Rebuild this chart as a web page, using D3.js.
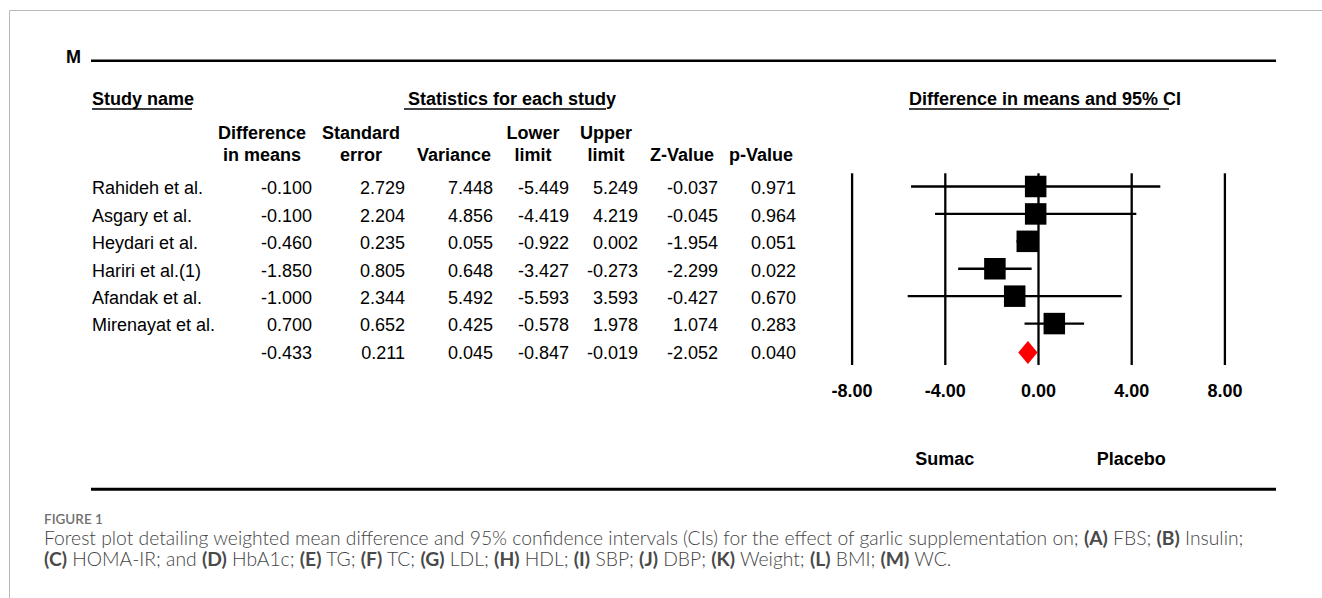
<!DOCTYPE html>
<html>
<head>
<meta charset="utf-8">
<script src="https://cdn.jsdelivr.net/npm/d3@7"></script>
<style>
  html, body { margin: 0; padding: 0; background: #fff; }
  svg { display: block; }
  .tbl { font-family: "Liberation Sans", Arial, sans-serif; font-size: 18px; fill: #000; }
  .bold { font-weight: bold; }
</style>
</head>
<body>
<svg id="chart" width="1322" height="598"></svg>
<script>
// Forest plot (M): waist circumference, sumac vs placebo
const studies     = ["Rahideh et al.", "Asgary et al.", "Heydari et al.", "Hariri et al.(1)", "Afandak et al.", "Mirenayat et al."];
const diffMeans   = [-0.100, -0.100, -0.460, -1.850, -1.000, 0.700];
const stdErrors   = [2.729, 2.204, 0.235, 0.805, 2.344, 0.652];
const variances   = [7.448, 4.856, 0.055, 0.648, 5.492, 0.425];
const lowerLimits = [-5.449, -4.419, -0.922, -3.427, -5.593, -0.578];
const upperLimits = [5.249, 4.219, 0.002, -0.273, 3.593, 1.978];
const zValues     = [-0.037, -0.045, -1.954, -2.299, -0.427, 1.074];
const pValues     = [0.971, 0.964, 0.051, 0.022, 0.670, 0.283];
// pooled estimate: diff, SE, variance, lower, upper, Z, p
const pooled      = [-0.433, 0.211, 0.045, -0.847, -0.019, -2.052, 0.040];
const xTicks      = [-8, -4, 0, 4, 8];
const colHeaders  = [["Difference", "in means"], ["Standard", "error"], ["", "Variance"],
                     ["Lower", "limit"], ["Upper", "limit"], ["", "Z-Value"], ["", "p-Value"]];
const favourLabels = [["Sumac", -4], ["Placebo", 4]];

const svg = d3.select("#chart");
svg.append("rect").attr("width", 1322).attr("height", 598).attr("fill", "#fff");

// outer figure frame (open to the right and bottom)
svg.append("path").attr("d", "M9.5,598V10.5H1322")
  .attr("fill", "none").attr("stroke", "#b8b8b8").attr("stroke-width", 1);

const g = svg.append("g").attr("class", "tbl");

// panel letter and rules
g.append("text").attr("class", "bold").attr("x", 66).attr("y", 63.3).text("M");
g.append("line").attr("x1", 91).attr("x2", 1276).attr("y1", 60.7).attr("y2", 60.7)
  .attr("stroke", "#000").attr("stroke-width", 2.6);
g.append("line").attr("x1", 91).attr("x2", 1276).attr("y1", 489.3).attr("y2", 489.3)
  .attr("stroke", "#000").attr("stroke-width", 3);

// section headings with underlines
const headings = [
  { t: "Study name", x: 92, u: [92, 192] },
  { t: "Statistics for each study", x: 408, u: [404, 606] },
  { t: "Difference in means and 95% CI", x: 909, u: [909, 1169] }
];
headings.forEach(h => {
  g.append("text").attr("class", "bold").attr("x", h.x).attr("y", 105).text(h.t);
  g.append("line").attr("x1", h.u[0]).attr("x2", h.u[1]).attr("y1", 109).attr("y2", 109)
    .attr("stroke", "#000").attr("stroke-width", 1.5);
});

// table columns: right edge of numbers and centre of the header
const colRight  = [312, 405, 493, 569, 638, 718, 796];
const colCenter = [262, 361, 454, 533, 606, 682, 761];
colHeaders.forEach((lines, i) => {
  lines.forEach((ln, k) => {
    if (!ln) return;
    g.append("text").attr("class", "bold").attr("text-anchor", "middle")
      .attr("x", colCenter[i]).attr("y", k === 0 ? 139 : 161).text(ln);
  });
});

// row positions
const rowIdx = d3.range(studies.length + 1);
const y = d3.scalePoint().domain(rowIdx).range([188, 352.5]);

const fmt = v => v.toFixed(3);
const rows = studies.map((s, i) => ({
  name: s,
  vals: [diffMeans[i], stdErrors[i], variances[i], lowerLimits[i], upperLimits[i], zValues[i], pValues[i]]
}));
rows.push({ name: "", vals: pooled });

rows.forEach((r, i) => {
  const yy = y(i) + 6.4;
  g.append("text").attr("x", 92).attr("y", yy).text(r.name);
  r.vals.forEach((v, c) => {
    g.append("text").attr("text-anchor", "end").attr("x", colRight[c]).attr("y", yy).text(fmt(v));
  });
});

// forest plot
const x = d3.scaleLinear().domain([-8, 8]).range([851.6, 1224.4]);
const plotTop = 173.3, plotBottom = 365;

const axis = d3.axisBottom(x).tickValues(xTicks)
  .tickSizeInner(-(plotBottom - plotTop)).tickSizeOuter(0)
  .tickPadding(26).tickFormat(d => d.toFixed(2));
const ax = g.append("g").attr("transform", `translate(0,${plotBottom})`).call(axis);
ax.select(".domain").remove();
ax.selectAll(".tick line").attr("stroke", "#000").attr("stroke-width", 2.3);
ax.selectAll(".tick text")
  .attr("font-family", "Liberation Sans, Arial, sans-serif")
  .attr("font-size", 18).attr("font-weight", "bold").attr("fill", "#000")
  .attr("dy", "0.35em");

// confidence intervals and point estimates
const sq = 21.5;
const marks = g.append("g");
studies.forEach((s, i) => {
  const cy = y(i) - 1.5;
  marks.append("line").attr("x1", x(lowerLimits[i])).attr("x2", x(upperLimits[i]))
    .attr("y1", cy).attr("y2", cy).attr("stroke", "#000").attr("stroke-width", 2.3);
  marks.append("rect").attr("x", x(diffMeans[i]) - sq / 2).attr("y", cy - sq / 2)
    .attr("width", sq).attr("height", sq).attr("fill", "#000");
});

// pooled diamond spans the pooled CI
const py = y(studies.length);
const dh = 11.5;
marks.append("path")
  .attr("d", `M${x(pooled[3])},${py}L${x(pooled[0])},${py - dh}L${x(pooled[4])},${py}L${x(pooled[0])},${py + dh}Z`)
  .attr("fill", "#ff0000");

// favours labels
favourLabels.forEach(([t, v]) => {
  g.append("text").attr("class", "bold").attr("text-anchor", "middle")
    .attr("x", x(v)).attr("y", 465).text(t);
});

// caption
const cap = svg.append("g").attr("font-family", "Lato, 'Open Sans', sans-serif");
cap.append("text").attr("x", 44).attr("y", 524.3).attr("font-size", 13.5)
  .attr("font-weight", 600).attr("fill", "#707070").text("FIGURE 1");

const captionLines = [
  [["Forest plot detailing weighted mean difference and 95% confidence intervals (CIs) for the effect of garlic supplementation on; ", 0],
   ["(A)", 1], [" FBS; ", 0], ["(B)", 1], [" Insulin;", 0]],
  [["(C)", 1], [" HOMA-IR; and ", 0], ["(D)", 1], [" HbA1c; ", 0], ["(E)", 1], [" TG; ", 0], ["(F)", 1], [" TC; ", 0],
   ["(G)", 1], [" LDL; ", 0], ["(H)", 1], [" HDL; ", 0], ["(I)", 1], [" SBP; ", 0], ["(J)", 1], [" DBP; ", 0],
   ["(K)", 1], [" Weight; ", 0], ["(L)", 1], [" BMI; ", 0], ["(M)", 1], [" WC.", 0]]
];
const capTexts = captionLines.map((segs, li) => {
  const t = cap.append("text").attr("x", 44).attr("y", li === 0 ? 545 : 566)
    .attr("font-size", 16).attr("fill", "#444");
  segs.forEach(([s, b]) => {
    t.append("tspan").attr("font-weight", b ? 700 : 300).attr("fill", b ? "#4a4a4a" : "#444").text(s);
  });
  return t;
});
// fit caption size so the first line ends near the right margin
const len = capTexts[0].node().getComputedTextLength();
const fs = 16 * (1200 / len);
capTexts.forEach(t => t.attr("font-size", fs));
</script>
</body>
</html>
